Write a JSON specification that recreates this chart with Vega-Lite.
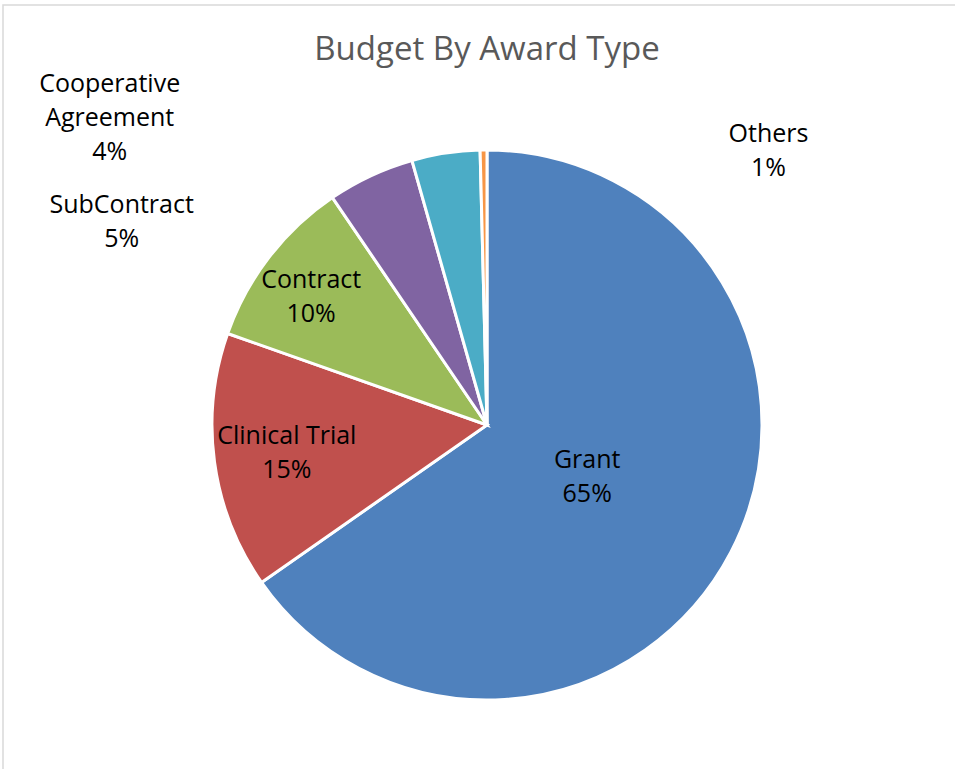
{
  "$schema": "https://vega.github.io/schema/vega-lite/v6.json",
  "autosize": {"type": "none"},
  "padding": {"left": 3, "top": 5, "right": 0, "bottom": 0},
  "width": 968,
  "height": 840,
  "background": "white",
  "title": {
    "text": "Budget By Award Type",
    "font": "Open Sans",
    "fontSize": 33,
    "fontWeight": "normal",
    "color": "#595959",
    "anchor": "middle",
    "frame": "group",
    "baseline": "alphabetic",
    "offset": -58,
    "dy": 31
  },
  "data": {
    "values": [
      {"type": "Grant", "value": 65.3, "idx": 1, "label": ["Grant", "65%"]},
      {"type": "Clinical Trial", "value": 15.1, "idx": 2, "label": ["Clinical Trial", "15%"]},
      {"type": "Contract", "value": 10.1, "idx": 3, "label": ["Contract", "10%"]},
      {"type": "SubContract", "value": 5.1, "idx": 4, "label": ["SubContract", "5%"]},
      {"type": "Cooperative Agreement", "value": 4.0, "idx": 5, "label": ["Cooperative", "Agreement", "4%"]},
      {"type": "Others", "value": 0.4, "idx": 6, "label": ["Others", "1%"]}
    ]
  },
  "layer": [
    {
      "data": {"values": [{"frame": 1}]},
      "mark": {"type": "rect", "fillOpacity": 0, "stroke": "#D9D9D9", "strokeWidth": 1.5},
      "encoding": {}
    },
    {
      "mark": {"type": "arc", "outerRadius": 275, "stroke": "white", "strokeWidth": 3},
      "encoding": {
        "theta": {"field": "value", "type": "quantitative", "stack": true},
        "order": {"field": "idx", "type": "quantitative"},
        "color": {
          "field": "type",
          "type": "nominal",
          "scale": {
            "domain": ["Grant", "Clinical Trial", "Contract", "SubContract", "Cooperative Agreement", "Others"],
            "range": ["#4F81BD", "#C0504D", "#9BBB59", "#8064A2", "#4BACC6", "#F79646"]
          },
          "legend": null
        }
      }
    },
    {
      "mark": {"type": "text", "radius": 113, "dy": -17, "font": "Open Sans", "fontSize": 25, "color": "black", "lineHeight": 34},
      "encoding": {
        "theta": {"field": "value", "type": "quantitative", "stack": true},
        "order": {"field": "idx", "type": "quantitative"},
        "text": {"condition": {"test": "datum.type === 'Grant'", "field": "label"}, "value": ""}
      }
    },
    {
      "mark": {"type": "text", "radius": 202, "dy": -16, "font": "Open Sans", "fontSize": 25, "color": "black", "lineHeight": 34},
      "encoding": {
        "theta": {"field": "value", "type": "quantitative", "stack": true},
        "order": {"field": "idx", "type": "quantitative"},
        "text": {"condition": {"test": "datum.type === 'Clinical Trial'", "field": "label"}, "value": ""}
      }
    },
    {
      "mark": {"type": "text", "radius": 222, "dy": -9, "font": "Open Sans", "fontSize": 25, "color": "black", "lineHeight": 34},
      "encoding": {
        "theta": {"field": "value", "type": "quantitative", "stack": true},
        "order": {"field": "idx", "type": "quantitative"},
        "text": {"condition": {"test": "datum.type === 'Contract'", "field": "label"}, "value": ""}
      }
    },
    {
      "mark": {"type": "text", "radius": 275, "dx": -249, "dy": 29, "font": "Open Sans", "fontSize": 25, "color": "black", "lineHeight": 34},
      "encoding": {
        "theta": {"field": "value", "type": "quantitative", "stack": true},
        "order": {"field": "idx", "type": "quantitative"},
        "text": {"condition": {"test": "datum.type === 'SubContract'", "field": "label"}, "value": ""}
      }
    },
    {
      "mark": {"type": "text", "radius": 275, "dx": -336, "dy": -69, "font": "Open Sans", "fontSize": 25, "color": "black", "lineHeight": 34},
      "encoding": {
        "theta": {"field": "value", "type": "quantitative", "stack": true},
        "order": {"field": "idx", "type": "quantitative"},
        "text": {"condition": {"test": "datum.type === 'Cooperative Agreement'", "field": "label"}, "value": ""}
      }
    },
    {
      "mark": {"type": "text", "radius": 275, "dx": 285, "dy": -16, "font": "Open Sans", "fontSize": 25, "color": "black", "lineHeight": 34},
      "encoding": {
        "theta": {"field": "value", "type": "quantitative", "stack": true},
        "order": {"field": "idx", "type": "quantitative"},
        "text": {"condition": {"test": "datum.type === 'Others'", "field": "label"}, "value": ""}
      }
    }
  ]
}
